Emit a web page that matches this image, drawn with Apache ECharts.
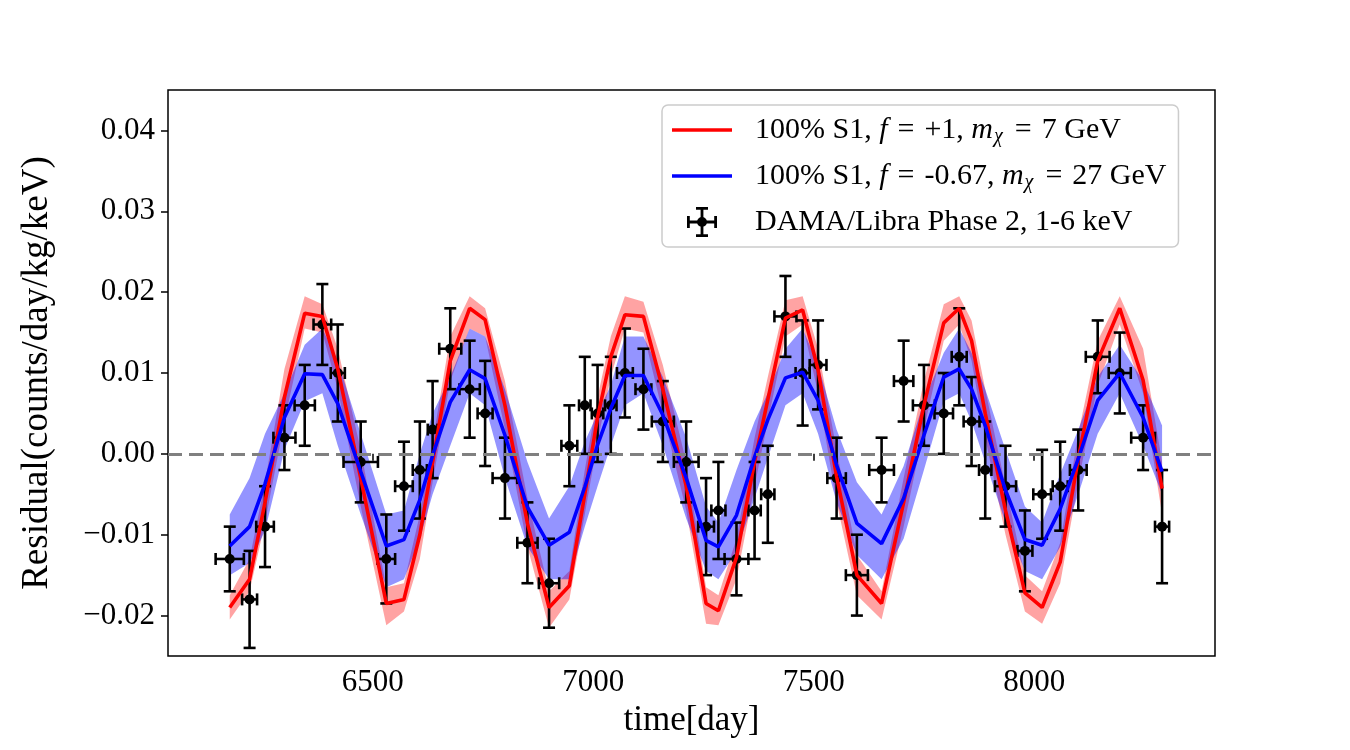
<!doctype html>
<html>
<head>
<meta charset="utf-8">
<title>Residual vs time</title>
<script src="https://cdn.jsdelivr.net/npm/echarts@6/dist/echarts.min.js"></script>
<style>
  html, body { margin: 0; padding: 0; background: #fff; }
  #chart { width: 1350px; height: 750px; }
</style>
</head>
<body>
<div id="chart"></div>
<script>
// data (time in days, residual in counts/day/kg/keV)
var times = [6176, 6221, 6256, 6300, 6346, 6386, 6421, 6473, 6531, 6571, 6607, 6636, 6676, 6720, 6755, 6800,
  6851, 6900, 6946, 6981, 7010, 7040, 7072, 7114, 7158, 7211, 7256, 7284, 7325, 7366, 7396, 7436, 7475, 7510,
  7552, 7598, 7654, 7704, 7750, 7795, 7830, 7858, 7889, 7935, 7979, 8018, 8059, 8100, 8144, 8194, 8247, 8290];
var residual = [-0.013, -0.018, -0.009, 0.002, 0.006, 0.016, 0.010, -0.001, -0.013, -0.004, -0.002, 0.003, 0.013,
  0.008, 0.005, -0.003, -0.011, -0.016, 0.001, 0.006, 0.005, 0.006, 0.010, 0.008, 0.004, -0.001, -0.009, -0.007,
  -0.013, -0.007, -0.005, 0.017, 0.010, 0.011, -0.003, -0.015, -0.002, 0.009, 0.006, 0.005, 0.012, 0.004, -0.002,
  -0.004, -0.012, -0.005, -0.004, -0.002, 0.012, 0.010, 0.002, -0.009];
var yErr = [0.004, 0.006, 0.005, 0.004, 0.005, 0.005, 0.006, 0.005, 0.0055, 0.0055, 0.006, 0.006, 0.005, 0.006,
  0.0065, 0.005, 0.005, 0.0055, 0.005, 0.006, 0.006, 0.006, 0.0055, 0.005, 0.005, 0.005, 0.006, 0.006, 0.0045,
  0.006, 0.006, 0.005, 0.0065, 0.0055, 0.005, 0.005, 0.004, 0.005, 0.005, 0.005, 0.006, 0.0055, 0.006, 0.005,
  0.005, 0.0055, 0.0055, 0.005, 0.0045, 0.005, 0.004, 0.007];
var xErr = [32, 17, 20, 25, 23, 20, 16, 39, 20, 20, 16, 11, 25, 23, 17, 28, 23, 23, 18, 13, 13, 13, 18, 18, 25, 28,
  18, 16, 27, 14, 15, 25, 16, 19, 21, 25, 28, 22, 25, 21, 17, 18, 14, 24, 17, 20, 17, 19, 27, 25, 27, 16];

// model curves at the data times
var redModel = [-0.019, -0.0155, -0.006, 0.007, 0.0174, 0.017, 0.0105, -0.003, -0.0185, -0.018, -0.010, -0.001,
  0.0115, 0.018, 0.0166, 0.006, -0.0086, -0.019, -0.0163, -0.005, 0.0045, 0.012, 0.0172, 0.017, 0.008, -0.004,
  -0.0185, -0.0194, -0.0128, -0.001, 0.0067, 0.0168, 0.0178, 0.0104, -0.0028, -0.015, -0.0185, -0.006, 0.006,
  0.0162, 0.018, 0.014, 0.005, -0.007, -0.0172, -0.019, -0.0134, -0.0006, 0.0115, 0.018, 0.0091, -0.0043];
var redLo = [-0.0205, -0.017, -0.0085, 0.004, 0.0155, 0.015, 0.008, -0.0065, -0.0212, -0.0195, -0.013, -0.0035,
  0.009, 0.0155, 0.0145, 0.003, -0.0115, -0.0215, -0.018, -0.0075, 0.0015, 0.0095, 0.0155, 0.015, 0.005, -0.007,
  -0.021, -0.0212, -0.0155, -0.004, 0.004, 0.0145, 0.016, 0.0075, -0.006, -0.0175, -0.0205, -0.009, 0.003, 0.014,
  0.016, 0.0115, 0.002, -0.010, -0.0195, -0.021, -0.016, -0.0035, 0.0085, 0.016, 0.0075, -0.0075];
var redHi = [-0.0175, -0.013, -0.0035, 0.0105, 0.0195, 0.0185, 0.013, 0.0005, -0.0165, -0.016, -0.0075, 0.0015,
  0.0145, 0.0195, 0.018, 0.009, -0.0055, -0.017, -0.0145, -0.002, 0.007, 0.0145, 0.0195, 0.0188, 0.011, -0.001,
  -0.0165, -0.0175, -0.0105, 0.002, 0.0095, 0.019, 0.0195, 0.013, 0.0005, -0.0125, -0.017, -0.003, 0.009, 0.0185,
  0.0195, 0.0165, 0.008, -0.004, -0.015, -0.017, -0.011, 0.0025, 0.014, 0.0195, 0.013, -0.001];
var blueModel = [-0.0114, -0.009, -0.0037, 0.0045, 0.0099, 0.0098, 0.0062, -0.0022, -0.0114, -0.0106, -0.0057,
  -0.0002, 0.0064, 0.0104, 0.0093, 0.0023, -0.0066, -0.0113, -0.0097, -0.0041, 0.0011, 0.0056, 0.0097, 0.0097,
  0.0048, -0.003, -0.0107, -0.0115, -0.0076, -0.0004, 0.0042, 0.0094, 0.0101, 0.0066, -0.0014, -0.0086, -0.0111,
  -0.0055, 0.0023, 0.0095, 0.0105, 0.008, 0.0035, -0.0045, -0.0106, -0.0113, -0.0068, -0.0006, 0.0066, 0.0100,
  0.0045, -0.0022];
var blueLo = [-0.015, -0.0135, -0.0095, 0.0005, 0.0065, 0.0075, 0.001, -0.0075, -0.0165, -0.0155, -0.0105, -0.005,
  0.001, 0.0075, 0.006, -0.003, -0.0115, -0.0155, -0.0155, -0.009, -0.004, 0.001, 0.006, 0.0075, 0.001, -0.008,
  -0.0145, -0.0155, -0.012, -0.0055, -0.0005, 0.006, 0.0075, 0.0025, -0.006, -0.0125, -0.0155, -0.0105, -0.002,
  0.0065, 0.0075, 0.004, -0.001, -0.0085, -0.0145, -0.0155, -0.0115, -0.005, 0.0025, 0.0075, 0.001, -0.005];
var blueHi = [-0.0075, -0.003, 0.0025, 0.0075, 0.0135, 0.0155, 0.0115, 0.0025, -0.0075, -0.007, 0.0, 0.005, 0.0095,
  0.0155, 0.0145, 0.008, -0.001, -0.008, -0.004, 0.0015, 0.005, 0.0085, 0.0145, 0.0145, 0.0095, 0.002, -0.0065,
  -0.0085, -0.002, 0.004, 0.0075, 0.013, 0.0155, 0.011, 0.003, -0.0035, -0.0075, -0.0015, 0.0065, 0.0125, 0.0155,
  0.0125, 0.008, 0.0005, -0.0065, -0.0085, -0.0025, 0.003, 0.0095, 0.0135, 0.009, 0.0035];

var xTicks = [6500, 7000, 7500, 8000];
var yTicks = [-0.02, -0.01, 0, 0.01, 0.02, 0.03, 0.04];

var redName = '100% S1, f = +1, m = 7 GeV';
var blueName = '100% S1, f = -0.67, m = 27 GeV';
var damaName = 'DAMA/Libra Phase 2, 1-6 keV';

var FONT = '"Liberation Serif", "DejaVu Serif", serif';

function pairs(ys) {
  return times.map(function (t, i) { return [t, ys[i]]; });
}
function bandData(lo, hi) {
  return times.map(function (t, i) { return [t, lo[i], hi[i]]; });
}

// band polygon: drawn once, from all rows of the series
function bandRenderer(color) {
  return function (params, api) {
    if (params.dataIndex !== 0) return null;
    var up = [], dn = [];
    for (var i = 0; i < times.length; i++) {
      var t = api.value(0, i), lo = api.value(1, i), hi = api.value(2, i);
      up.push(api.coord([t, hi]));
      dn.push(api.coord([t, lo]));
    }
    return {
      type: 'polygon',
      shape: { points: up.concat(dn.reverse()) },
      style: { fill: color, stroke: null },
      silent: true
    };
  };
}

var errData = times.map(function (t, i) { return [t, residual[i], xErr[i], yErr[i]]; });

function renderErr(params, api) {
  var x = api.value(0), y = api.value(1), xe = api.value(2), ye = api.value(3);
  var c = api.coord([x, y]);
  var top = api.coord([x, y + ye])[1], bot = api.coord([x, y - ye])[1];
  var lft = api.coord([x - xe, y])[0], rgt = api.coord([x + xe, y])[0];
  var cap = 6;
  var st = { stroke: '#000', lineWidth: 2.6 };
  return {
    type: 'group',
    children: [
      { type: 'line', shape: { x1: c[0], y1: top, x2: c[0], y2: bot }, style: st },
      { type: 'line', shape: { x1: c[0] - cap, y1: top, x2: c[0] + cap, y2: top }, style: st },
      { type: 'line', shape: { x1: c[0] - cap, y1: bot, x2: c[0] + cap, y2: bot }, style: st },
      { type: 'line', shape: { x1: lft, y1: c[1], x2: rgt, y2: c[1] }, style: st },
      { type: 'line', shape: { x1: lft, y1: c[1] - cap, x2: lft, y2: c[1] + cap }, style: st },
      { type: 'line', shape: { x1: rgt, y1: c[1] - cap, x2: rgt, y2: c[1] + cap }, style: st },
      { type: 'circle', shape: { cx: c[0], cy: c[1], r: 5 }, style: { fill: '#000' } }
    ]
  };
}

var lineIcon = 'path://M0,0 L60,0 L60,3.5 L0,3.5 Z';
var errIcon = 'path://M13.6,0 L21,0 L21,2.8 L16.4,2.8 L16.4,13.6 L27.2,13.6 L27.2,9 L30,9 L30,21 L27.2,21 L27.2,16.4 ' +
  'L16.4,16.4 L16.4,27.2 L21,27.2 L21,30 L9,30 L9,27.2 L13.6,27.2 L13.6,16.4 L2.8,16.4 L2.8,21 L0,21 L0,9 L2.8,9 ' +
  'L2.8,13.6 L13.6,13.6 L13.6,2.8 L9,2.8 L9,0 Z M10,15 A5,5 0 1,1 20,15 A5,5 0 1,1 10,15 Z';

var EQ = '\u2004=\u2004';

var myChart = echarts.init(document.getElementById('chart'));
var option = {
  animation: false,
  backgroundColor: '#fff',
  textStyle: { fontFamily: FONT },
  grid: {
    left: 168, right: 135, top: 90, bottom: 94,
    show: true, borderColor: '#000', borderWidth: 1.5, backgroundColor: 'transparent'
  },
  legend: {
    orient: 'vertical',
    left: 662, top: 105,
    itemWidth: 60, itemHeight: 30, itemGap: 14,
    padding: [10, 12, 10, 10],
    backgroundColor: 'rgba(255,255,255,0.85)',
    borderColor: '#cccccc', borderWidth: 1.5, borderRadius: 6,
    data: [
      { name: redName, icon: lineIcon },
      { name: blueName, icon: lineIcon },
      { name: damaName, icon: errIcon }
    ],
    formatter: function (name) {
      if (name === redName) return '100% S1, {i|f}' + EQ + '+1, {i|m}{s|χ}' + EQ + '7 GeV';
      if (name === blueName) return '100% S1, {i|f}' + EQ + '-0.67, {i|m}{s|χ}' + EQ + '27 GeV';
      return name;
    },
    textStyle: {
      fontFamily: FONT, fontSize: 30, color: '#000', padding: [0, 0, 0, 18],
      rich: {
        i: { fontFamily: FONT, fontSize: 30, fontStyle: 'italic', color: '#000' },
        s: { fontFamily: FONT, fontSize: 20, fontStyle: 'italic', color: '#000', padding: [14, 2, 0, 1] }
      }
    }
  },
  xAxis: {
    type: 'value',
    min: 6036, max: 8410,
    name: 'time[day]',
    nameLocation: 'middle',
    nameGap: 47,
    nameTextStyle: { fontFamily: FONT, fontSize: 35, color: '#000' },
    axisLine: { show: false },
    axisTick: { show: true, length: 7, customValues: xTicks, lineStyle: { color: '#000', width: 1.5 } },
    axisLabel: {
      customValues: xTicks, margin: 11, fontFamily: FONT, fontSize: 31, color: '#000',
      formatter: function (v) { return String(Math.round(v)); }
    },
    splitLine: { show: false }
  },
  yAxis: {
    type: 'value',
    min: -0.025, max: 0.045,
    name: 'Residual(counts/day/kg/keV)',
    nameLocation: 'middle',
    nameGap: 112,
    nameTextStyle: { fontFamily: FONT, fontSize: 37, color: '#000' },
    axisLine: { show: false },
    axisTick: { show: true, length: 7, customValues: yTicks, lineStyle: { color: '#000', width: 1.5 } },
    axisLabel: {
      customValues: yTicks, margin: 13, fontFamily: FONT, fontSize: 31, color: '#000',
      formatter: function (v) {
        var s = Math.abs(v).toFixed(2);
        return v < -1e-9 ? '\u2212' + s : s;
      }
    },
    splitLine: { show: false }
  },
  series: [
    {
      type: 'custom', name: 'redBand', data: bandData(redLo, redHi),
      encode: { x: 0, y: [1, 2] }, silent: true,
      renderItem: bandRenderer('rgba(255,0,0,0.36)')
    },
    {
      type: 'custom', name: 'blueBand', data: bandData(blueLo, blueHi),
      encode: { x: 0, y: [1, 2] }, silent: true,
      renderItem: bandRenderer('rgba(0,0,255,0.42)')
    },
    {
      type: 'line', name: 'zero', data: [], silent: true,
      markLine: {
        silent: true, symbol: 'none', label: { show: false },
        lineStyle: { color: '#808080', width: 3, type: [14, 7] },
        data: [{ yAxis: 0 }]
      }
    },
    {
      type: 'line', name: redName, data: pairs(redModel), symbol: 'none',
      itemStyle: { color: '#ff0000' }, lineStyle: { color: '#ff0000', width: 3.6 }
    },
    {
      type: 'line', name: blueName, data: pairs(blueModel), symbol: 'none',
      itemStyle: { color: '#0000ff' }, lineStyle: { color: '#0000ff', width: 3.6 }
    },
    {
      type: 'custom', name: damaName, data: errData,
      encode: { x: 0, y: 1 },
      itemStyle: { color: '#000' },
      renderItem: renderErr
    }
  ]
};
myChart.setOption(option);
</script>
</body>
</html>
